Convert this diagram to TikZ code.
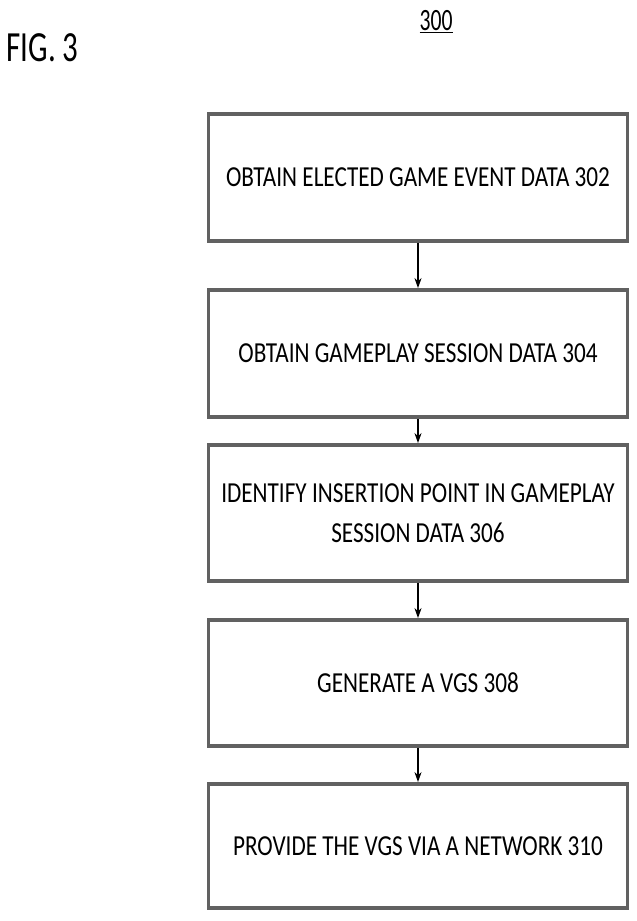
\documentclass[tikz,border=0pt]{standalone}
\usepackage{fontspec}
\setmainfont{Carlito}[FakeStretch=0.8]
\newfontfamily\figfont{Carlito}[FakeStretch=0.72]
\newfontfamily\numfont{Carlito}[FakeStretch=0.7]
\usetikzlibrary{arrows.meta}
\begin{document}
\begin{tikzpicture}[x=1pt,y=-1pt,
  stepbox/.style={draw=black!62,line width=3.8pt,minimum width=419pt,inner sep=0pt,align=center,font=\fontsize{29}{40}\selectfont},
  flow/.style={draw=black,line width=1.6pt,-{Stealth[length=10pt,width=7pt]}}]
\useasboundingbox (0,0) rectangle (637,921);
\node[anchor=west,font=\figfont\fontsize{43}{46}\selectfont] (fig) at (3,48) {FIG. 3};
\node[font=\numfont\fontsize{31}{34}\selectfont] (num) at (436,22) {\underline{300}};
\node[stepbox,minimum height=127pt] (b1) at (418,177.5) {OBTAIN ELECTED GAME EVENT DATA 302};
\node[stepbox,minimum height=127pt] (b2) at (418,353.5) {OBTAIN GAMEPLAY SESSION DATA 304};
\node[stepbox,minimum height=136pt] (b3) at (418,513) {IDENTIFY INSERTION POINT IN GAMEPLAY\\SESSION DATA 306};
\node[stepbox,minimum height=126pt] (b4) at (418,683) {GENERATE A VGS 308};
\node[stepbox,minimum height=124pt] (b5) at (418,846) {PROVIDE THE VGS VIA A NETWORK 310};
\draw[flow] (b1) -- (b2);
\draw[flow] (b2) -- (b3);
\draw[flow] (b3) -- (b4);
\draw[flow] (b4) -- (b5);
\end{tikzpicture}
\end{document}
